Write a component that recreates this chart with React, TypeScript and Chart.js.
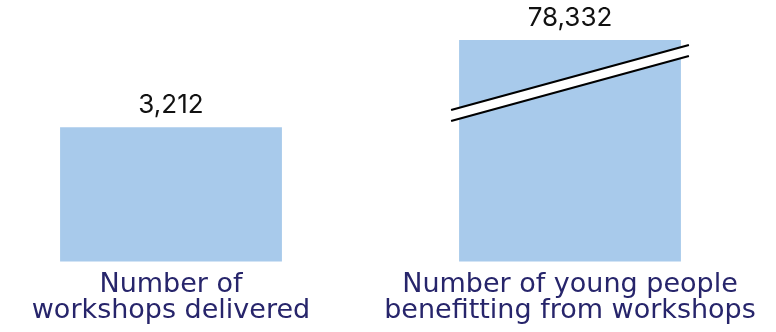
import React, { useEffect, useRef } from "react";
import { Chart, registerables } from "chart.js";

Chart.register(...registerables);

const categories: string[][] = [
  ["Number of", "workshops delivered"],
  ["Number of young people", "benefitting from workshops"],
];
const values: number[] = [3212, 78332];
// axis is broken: the scale tops out here and taller bars are cut with a break mark
const axisBreakMax = 5300;

const BAR_COLOR = "#a8caeb";
const LABEL_COLOR = "#27256b";
const FONT = "Inter, 'Noto Sans', sans-serif";
const LABEL_FONT = "'DejaVu Sans', sans-serif";

const valueLabelPlugin = {
  id: "valueLabels",
  afterDatasetsDraw(chart: any) {
    const { ctx, chartArea } = chart;
    const meta = chart.getDatasetMeta(0);
    ctx.save();
    ctx.font = `400 26px ${FONT}`;
    ctx.fillStyle = "#111111";
    ctx.textAlign = "center";
    ctx.textBaseline = "bottom";
    meta.data.forEach((el: any, i: number) => {
      const top = Math.max(el.y, chartArea.top);
      ctx.fillText(values[i].toLocaleString("en-US"), el.x, top - 9);
    });
    ctx.restore();
  },
};

const breakPlugin = {
  id: "axisBreak",
  afterDatasetsDraw(chart: any) {
    const { ctx, chartArea } = chart;
    const meta = chart.getDatasetMeta(0);
    meta.data.forEach((el: any, i: number) => {
      if (values[i] <= axisBreakMax) return;
      const half = el.width / 2 + 8;
      const x1 = el.x - half;
      const x2 = el.x + half;
      const y1 = chartArea.top + 70;
      const y2 = chartArea.top + 5;
      const gap = 11;
      ctx.save();
      ctx.beginPath();
      ctx.moveTo(x1, y1);
      ctx.lineTo(x2, y2);
      ctx.lineTo(x2, y2 + gap);
      ctx.lineTo(x1, y1 + gap);
      ctx.closePath();
      ctx.fillStyle = "#ffffff";
      ctx.fill();
      ctx.strokeStyle = "#000000";
      ctx.lineWidth = 2.2;
      ctx.beginPath();
      ctx.moveTo(x1, y1);
      ctx.lineTo(x2, y2);
      ctx.moveTo(x1, y1 + gap);
      ctx.lineTo(x2, y2 + gap);
      ctx.stroke();
      ctx.restore();
    });
  },
};

export default function App() {
  const ref = useRef<HTMLCanvasElement | null>(null);
  useEffect(() => {
    if (!ref.current) return;
    const chart = new Chart(ref.current, {
      type: "bar",
      data: {
        labels: categories,
        datasets: [
          {
            data: values,
            backgroundColor: BAR_COLOR,
            borderWidth: 0,
            categoryPercentage: 1,
            barPercentage: 0.556,
            clip: { left: false, right: false, top: 0, bottom: false } as any,
          },
        ],
      },
      options: {
        animation: false,
        responsive: false,
        devicePixelRatio: 1,
        layout: { padding: { left: 171, right: 206, top: 40, bottom: 6 } },
        plugins: { legend: { display: false }, tooltip: { enabled: false } },
        scales: {
          x: {
            offset: false,
            grid: { display: false },
            border: { display: false },
            ticks: {
              color: LABEL_COLOR,
              font: { family: LABEL_FONT, size: 27, lineHeight: 0.97 },
              maxRotation: 0,
              minRotation: 0,
              padding: 2,
              autoSkip: false,
            },
          },
          y: {
            display: false,
            min: 0,
            max: axisBreakMax,
          },
        },
      },
      plugins: [valueLabelPlugin, breakPlugin],
    });
    return () => chart.destroy();
  }, []);
  return (
    <div style={{ position: "absolute", left: 0, top: 0, width: 776, height: 332, background: "#fff" }}>
      <canvas ref={ref} width={776} height={332} />
    </div>
  );
}
